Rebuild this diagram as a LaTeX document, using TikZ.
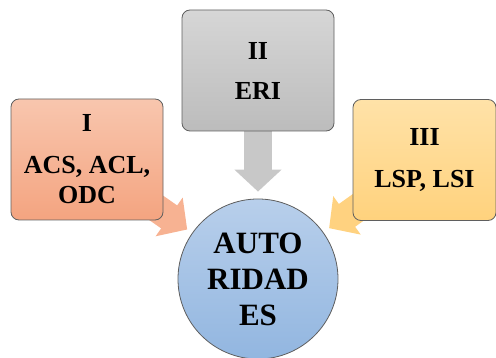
\documentclass[tikz,border=0pt]{standalone}
\usepackage{fontspec}
\setmainfont{Liberation Serif}
\usetikzlibrary{arrows.meta}
\pgfdeclarelayer{bg}
\pgfsetlayers{bg,main}
\definecolor{sA1}{RGB}{248,198,174}
\definecolor{sA2}{RGB}{244,164,128}
\definecolor{sAar}{RGB}{247,178,146}
\definecolor{gB1}{RGB}{214,214,214}
\definecolor{gB2}{RGB}{188,188,188}
\definecolor{gBar}{RGB}{200,200,200}
\definecolor{yC1}{RGB}{255,226,168}
\definecolor{yC2}{RGB}{255,210,125}
\definecolor{yCar}{RGB}{255,210,128}
\definecolor{bD1}{RGB}{184,207,235}
\definecolor{bD2}{RGB}{146,182,224}
\definecolor{edgecol}{RGB}{95,95,95}
\tikzset{
  boxstyle/.style={draw=edgecol, line width=0.8pt, rounded corners=8pt, inner sep=0pt,
    minimum height=121pt, align=center, font=\bfseries\fontsize{26}{30}\selectfont},
  circstyle/.style={circle, draw=edgecol, line width=0.8pt, minimum size=160pt, inner sep=0pt,
    align=center, top color=bD1, bottom color=bD2, font=\bfseries\fontsize{31}{36}\selectfont},
  blockarrow/.style={line width=28pt, line cap=butt, -{Triangle[length=22pt,width=46pt]}}
}
\begin{document}
\begin{tikzpicture}[x=1pt,y=-1pt]
\useasboundingbox (0,0) rectangle (496,358);
\clip (0,0) rectangle (496,358);
\node[boxstyle, minimum width=152pt, top color=sA1, bottom color=sA2] (I) at (87,159.5) {I\\[12pt]ACS, ACL,\\ODC};
\node[boxstyle, minimum width=152pt, top color=gB1, bottom color=gB2] (II) at (258,70.5) {II\\[10pt]ERI};
\node[boxstyle, minimum width=143pt, top color=yC1, bottom color=yC2] (III) at (424.5,160) {III\\[12pt]LSP, LSI};
\node[circstyle] (C) at (258,279) {AUTO\\RIDAD\\ES};
\begin{pgfonlayer}{bg}
\draw[blockarrow, draw=sAar, fill=sAar, shorten >=6pt] (I.center) -- (C);
\draw[blockarrow, draw=gBar, fill=gBar, shorten >=7pt] (II.center) -- (C);
\draw[blockarrow, draw=yCar, fill=yCar, shorten >=7pt] (III.center) -- (C);
\end{pgfonlayer}
\end{tikzpicture}
\end{document}
